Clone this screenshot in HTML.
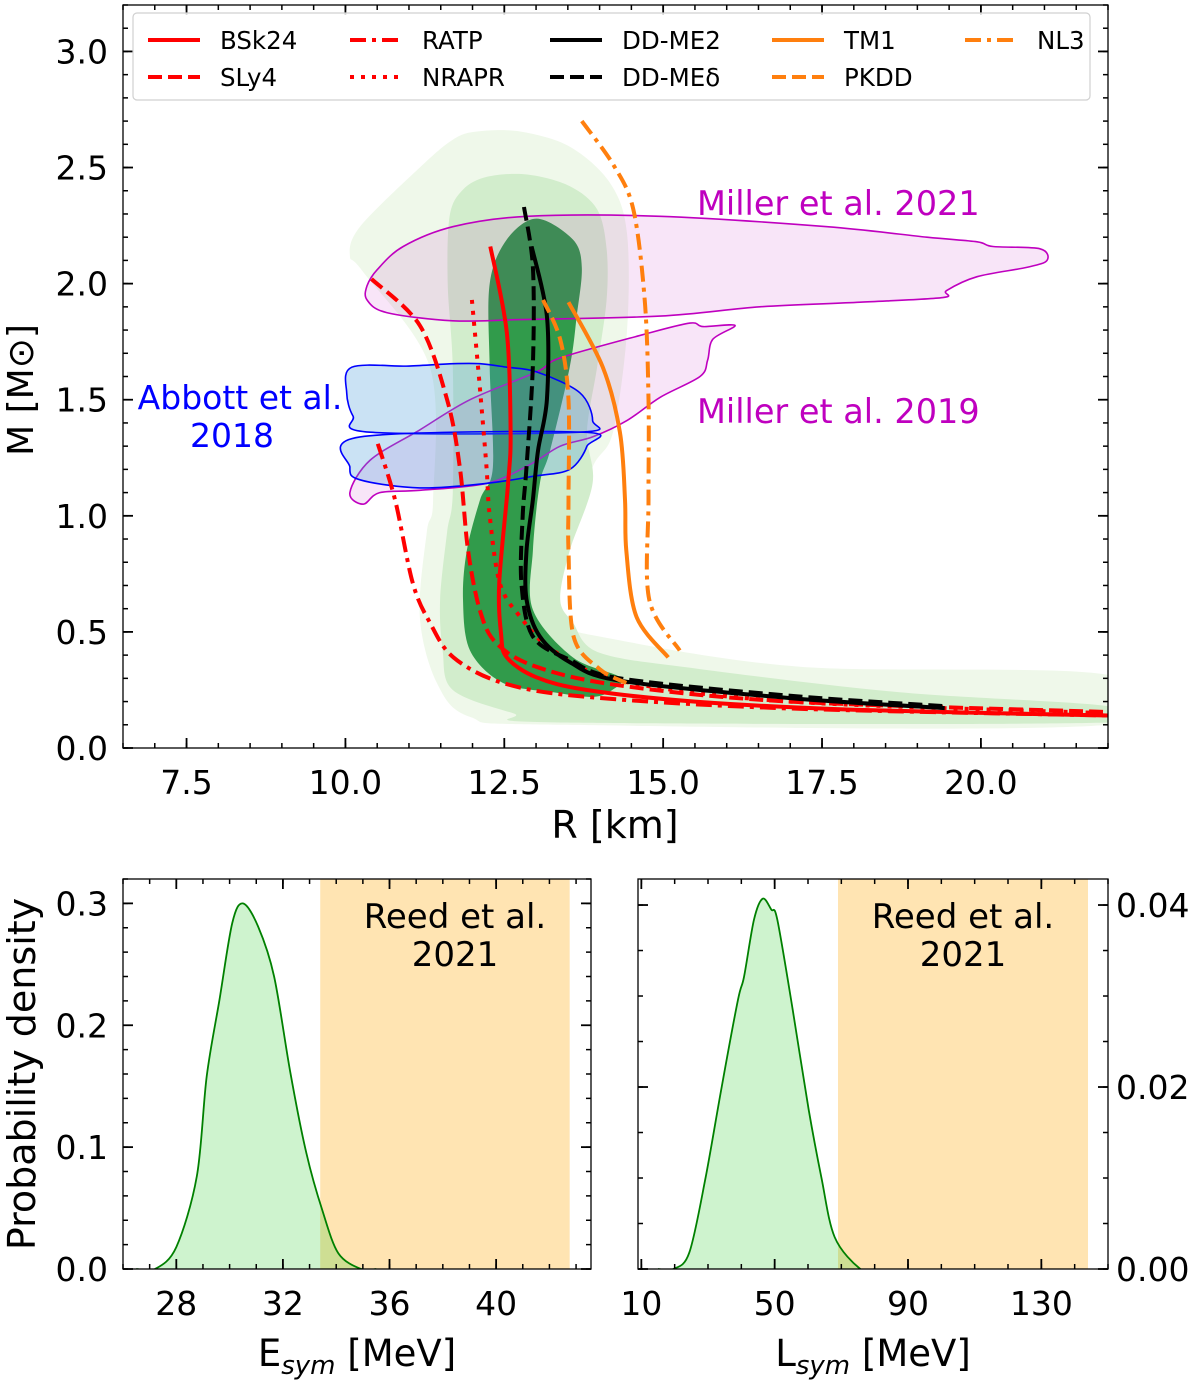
<!DOCTYPE html>
<html><head><meta charset="utf-8">
<style>
html,body{margin:0;padding:0;background:#fff;}
svg{display:block;font-family:"DejaVu Sans","Liberation Sans",sans-serif;}
</style></head>
<body>
<svg id="fig" width="1200" height="1380" viewBox="0 0 1200 1380">
<g id="topPanel"></g>
<g id="bl"></g>
<g id="br"></g>
</svg>
<script>
// ---------- data: mass-radius panel ----------
const rTicks = [7.5, 10.0, 12.5, 15.0, 17.5, 20.0];
const rTickLabels = ["7.5", "10.0", "12.5", "15.0", "17.5", "20.0"];
const mTicks = [0.0, 0.5, 1.0, 1.5, 2.0, 2.5, 3.0];
const mTickLabels = ["0.0", "0.5", "1.0", "1.5", "2.0", "2.5", "3.0"];

const contourOuter = [[12.07,2.655],[12.75,2.655],[13.53,2.59],[14.16,2.435],[14.43,2.22],[14.43,1.79],[14.21,1.36],[13.89,1.21],[13.58,0.93],[13.27,0.64],[13.38,0.54],[14.0,0.48],[17.15,0.35],[22,0.315],[22,0.10],[13.38,0.10],[11.96,0.134],[11.44,0.28],[11.17,0.565],[11.28,0.93],[11.38,1.07],[11.33,1.64],[10.28,2.05],[10.07,2.12],[10.23,2.245],[11.17,2.50],[11.69,2.62]];
const contourMid = [[11.85,2.405],[12.23,2.46],[12.86,2.47],[13.53,2.42],[13.96,2.32],[14.11,2.15],[14.11,1.93],[13.96,1.64],[13.80,1.36],[13.89,1.14],[13.53,0.85],[13.38,0.64],[13.58,0.54],[14.0,0.41],[15.58,0.34],[18.72,0.24],[22,0.18],[22,0.11],[13.38,0.11],[12.64,0.15],[11.69,0.25],[11.53,0.42],[11.49,0.64],[11.60,0.93],[11.69,1.10],[11.69,1.64],[11.61,2.0],[11.64,2.29]];
const contourInner = [[13.01,2.28],[13.58,2.19],[13.72,2.07],[13.64,1.86],[13.53,1.64],[13.22,1.28],[13.06,1.14],[12.95,0.85],[12.95,0.595],[13.58,0.39],[14.32,0.305],[14.2,0.25],[13.89,0.22],[13.27,0.24],[12.48,0.28],[11.96,0.42],[11.85,0.64],[11.91,0.85],[12.12,1.07],[12.32,1.21],[12.27,1.64],[12.27,2.0],[12.54,2.19]];

const miller2021 = [[12.86,2.29],[14.95,2.29],[17.58,2.245],[19.15,2.20],[19.94,2.18],[20.19,2.16],[20.93,2.15],[21.04,2.10],[20.72,2.07],[19.94,2.03],[19.46,1.97],[19.40,1.94],[18.10,1.92],[16.52,1.90],[14.95,1.86],[12.75,1.845],[11.69,1.84],[10.65,1.875],[10.34,1.93],[10.34,1.99],[10.50,2.06],[10.91,2.16],[11.69,2.245]];
const miller2019 = [[10.07,1.10],[10.39,1.24],[11.17,1.37],[11.96,1.50],[13.01,1.62],[13.38,1.68],[14.68,1.78],[15.42,1.83],[15.63,1.815],[16.13,1.82],[15.78,1.76],[15.70,1.67],[15.58,1.60],[14.95,1.51],[14.43,1.41],[13.89,1.34],[13.38,1.30],[12.9,1.22],[12.23,1.14],[11.17,1.11],[10.54,1.10],[10.28,1.05]];
const abbottUpper = [[10.10,1.64],[11.0,1.645],[11.69,1.655],[12.12,1.655],[12.54,1.64],[13.01,1.62],[13.69,1.53],[13.89,1.41],[13.69,1.36],[10.39,1.36],[10.12,1.43],[10.02,1.53]];
const abbottLower = [[13.74,1.36],[13.80,1.30],[13.53,1.20],[12.95,1.17],[12.23,1.14],[11.17,1.12],[10.23,1.155],[10.07,1.21],[10.23,1.34]];

const eosBSk24 = [[12.28,2.16],[12.54,1.79],[12.60,1.36],[12.56,1.14],[12.42,0.71],[12.45,0.49],[12.54,0.39],[13.0,0.305],[13.8,0.25],[15.5,0.2],[18,0.165],[22,0.14]];
const eosSLy4 = [[10.41,2.02],[11.17,1.82],[11.60,1.50],[11.80,1.21],[11.93,0.85],[12.12,0.59],[12.38,0.45],[13.0,0.35],[14.3,0.27],[17,0.2],[22,0.155]];
const eosRATP = [[10.51,1.31],[10.78,1.07],[11.06,0.71],[11.33,0.54],[11.70,0.39],[12.48,0.28],[13.8,0.22],[17,0.17],[22,0.14]];
const eosNRAPR = [[11.99,1.93],[12.11,1.57],[12.22,1.21],[12.27,1.0],[12.43,0.71],[12.75,0.565],[13.27,0.42],[14.32,0.29],[17,0.2],[22,0.15]];
const eosDDME2 = [[12.93,2.16],[13.17,1.86],[13.17,1.50],[13.03,1.28],[12.95,1.07],[12.85,0.85],[12.85,0.64],[13.06,0.48],[13.53,0.37],[14.32,0.29],[17,0.215],[19.43,0.172]];
const eosDDMEd = [[12.81,2.33],[12.95,2.07],[12.95,1.65],[12.85,1.21],[12.79,1.0],[12.77,0.71],[12.95,0.48],[13.53,0.38],[14.32,0.30],[17,0.225],[19.43,0.18]];
const eosTM1 = [[13.51,1.92],[14.05,1.64],[14.32,1.36],[14.40,1.07],[14.42,0.85],[14.58,0.565],[15.08,0.39]];
const eosPKDD = [[13.11,1.93],[13.38,1.76],[13.51,1.5],[13.51,1.07],[13.51,0.85],[13.59,0.48],[14.0,0.34],[14.42,0.28]];
const eosNL3 = [[13.72,2.70],[14.22,2.51],[14.53,2.32],[14.71,1.93],[14.77,1.5],[14.77,1.07],[14.78,0.64],[15.26,0.42]];

// ---------- data: Esym panel ----------
const eTicks = [28, 32, 36, 40];
const eTickLabels = ["28", "32", "36", "40"];
const pTicks = [0.0, 0.1, 0.2, 0.3];
const pTickLabels = ["0.0", "0.1", "0.2", "0.3"];
const esymX = [26.5, 27.2, 28.0, 28.77, 29.14, 29.62, 30.1, 30.5, 31.07, 31.67, 32.28, 32.88, 33.48, 34.08, 34.93, 35.5];
const esymP = [0, 0, 0.018, 0.076, 0.158, 0.221, 0.284, 0.300, 0.281, 0.240, 0.161, 0.095, 0.048, 0.013, 0, 0];
const esymBand = [33.4, 42.76];

// ---------- data: Lsym panel ----------
const lTicks = [10, 50, 90, 130];
const lTickLabels = ["10", "50", "90", "130"];
const qTicks = [0.00, 0.02, 0.04];
const qTickLabels = ["0.00", "0.02", "0.04"];
const lsymX = [15, 19.6, 24.4, 29.3, 34.1, 39.0, 40.8, 43.8, 46.4, 49.0, 50.8, 55.4, 60.2, 64.0, 68.0, 75.7, 80];
const lsymP = [0, 0, 0.0018, 0.0101, 0.020, 0.0296, 0.0321, 0.0384, 0.0407, 0.0395, 0.0384, 0.0285, 0.0175, 0.0101, 0.0035, 0, 0];
const lsymBand = [69, 144];

// ---------- helpers ----------
const NS = "http://www.w3.org/2000/svg";
const TICKFS = 33;
function mk(parent, tag, attrs) {
  const el = document.createElementNS(NS, tag);
  for (const k in attrs) el.setAttribute(k, attrs[k]);
  parent.appendChild(el);
  return el;
}
function smoothPath(pts, closed) {
  const n = pts.length;
  if (n < 2) return "";
  let d = "M" + pts[0][0].toFixed(1) + "," + pts[0][1].toFixed(1);
  const get = i => closed ? pts[(i + n) % n] : pts[Math.max(0, Math.min(n - 1, i))];
  const last = closed ? n : n - 1;
  for (let i = 0; i < last; i++) {
    const p0 = get(i - 1), p1 = get(i), p2 = get(i + 1), p3 = get(i + 2);
    const t = 0.16;
    const c1 = [p1[0] + (p2[0] - p0[0]) * t, p1[1] + (p2[1] - p0[1]) * t];
    const c2 = [p2[0] - (p3[0] - p1[0]) * t, p2[1] - (p3[1] - p1[1]) * t];
    d += "C" + c1[0].toFixed(1) + "," + c1[1].toFixed(1) + " " + c2[0].toFixed(1) + "," + c2[1].toFixed(1) + " " + p2[0].toFixed(1) + "," + p2[1].toFixed(1);
  }
  if (closed) d += "Z";
  return d;
}
function txt(parent, x, y, s, attrs, name) {
  const t = mk(parent, "text", Object.assign({x: x, y: y}, attrs));
  t.textContent = s;
  
  
  return t;
}
function frameTicks(g, L, R, T, B, xMaj, xMin, yMajL, yMinL, yMajR, yMinR) {
  mk(g, "rect", {x: L, y: T, width: R - L, height: B - T, fill: "none", stroke: "#000", "stroke-width": 1.3});
  xMaj.forEach(x => { mk(g, "line", {x1: x, x2: x, y1: B, y2: B - 10, stroke: "#000", "stroke-width": 1.8}); mk(g, "line", {x1: x, x2: x, y1: T, y2: T + 10, stroke: "#000", "stroke-width": 1.8}); });
  xMin.forEach(x => { mk(g, "line", {x1: x, x2: x, y1: B, y2: B - 5, stroke: "#000", "stroke-width": 1.5}); mk(g, "line", {x1: x, x2: x, y1: T, y2: T + 5, stroke: "#000", "stroke-width": 1.5}); });
  yMajL.forEach(y => mk(g, "line", {x1: L, x2: L + 10, y1: y, y2: y, stroke: "#000", "stroke-width": 1.8}));
  yMinL.forEach(y => mk(g, "line", {x1: L, x2: L + 5, y1: y, y2: y, stroke: "#000", "stroke-width": 1.5}));
  yMajR.forEach(y => mk(g, "line", {x1: R, x2: R - 10, y1: y, y2: y, stroke: "#000", "stroke-width": 1.8}));
  yMinR.forEach(y => mk(g, "line", {x1: R, x2: R - 5, y1: y, y2: y, stroke: "#000", "stroke-width": 1.5}));
}
function range(a, b, s) { const o = []; for (let v = a; v <= b + 1e-9; v += s) o.push(+v.toFixed(6)); return o; }

// ---------- top panel ----------
const topG = document.getElementById("topPanel");
const TL = 123, TR = 1108, TT = 5, TB = 748;
const rMin = 6.5, rMax = 22.0, mMin = 0, mMax = 3.2;
const xR = r => TL + (r - rMin) / (rMax - rMin) * (TR - TL);
const yM = m => TB - (m - mMin) / (mMax - mMin) * (TB - TT);
const toPx = arr => arr.map(p => [xR(p[0]), yM(p[1])]);

const clipT = mk(topG, "clipPath", {id: "clipTop"});
mk(clipT, "rect", {x: TL, y: TT, width: TR - TL, height: TB - TT});
const plotG = mk(topG, "g", {"clip-path": "url(#clipTop)"});

let el;
el = mk(plotG, "path", {d: smoothPath(toPx(contourOuter), true), fill: "#eff8ea"});


el = mk(plotG, "path", {d: smoothPath(toPx(contourMid), true), fill: "#d2edcc"});


el = mk(plotG, "path", {d: smoothPath(toPx(contourInner), true), fill: "#319b4b"});



el = mk(plotG, "path", {d: smoothPath(toPx(miller2021), true), fill: "rgba(191,0,191,0.1)", stroke: "#bf00bf", "stroke-width": 1.6});


el = mk(plotG, "path", {d: smoothPath(toPx(miller2019), true), fill: "rgba(191,0,191,0.1)", stroke: "#bf00bf", "stroke-width": 1.6});


el = mk(plotG, "path", {d: smoothPath(toPx(abbottUpper), true), fill: "rgba(80,160,220,0.3)", stroke: "#0000ff", "stroke-width": 1.6});


el = mk(plotG, "path", {d: smoothPath(toPx(abbottLower), true), fill: "rgba(80,160,220,0.3)", stroke: "#0000ff", "stroke-width": 1.6});



const RED = "#ff0000", ORG = "#ff7f0e", BLK = "#000000";
const DASH = "14,6", DASHDOT = "16,6,4,6", DOT = "4,7";
const eosList = [
  ["bsk24", eosBSk24, RED, ""], ["sly4", eosSLy4, RED, DASH], ["ratp", eosRATP, RED, DASHDOT], ["nrapr", eosNRAPR, RED, DOT],
  ["dd-me2", eosDDME2, BLK, ""], ["dd-medelta", eosDDMEd, BLK, DASH],
  ["tm1", eosTM1, ORG, ""], ["pkdd", eosPKDD, ORG, DASH], ["nl3", eosNL3, ORG, DASHDOT]
];
eosList.forEach(s => {
  const a = {d: smoothPath(toPx(s[1]), false), fill: "none", stroke: s[2], "stroke-width": 4};
  if (s[3]) a["stroke-dasharray"] = s[3];
  const p = mk(plotG, "path", a);
  
  
});

txt(topG, 697, 215, "Miller et al. 2021", {"font-size": 33.5, fill: "#bf00bf"}, "miller-2021-label");
txt(topG, 697, 423, "Miller et al. 2019", {"font-size": 33.5, fill: "#bf00bf"}, "miller-2019-label");
txt(topG, 240, 409, "Abbott et al.", {"font-size": 33, fill: "#0000ff", "text-anchor": "middle"}, "abbott-label-line1");
txt(topG, 232, 447, "2018", {"font-size": 33, fill: "#0000ff", "text-anchor": "middle"}, "abbott-label-line2");

const axT = mk(topG, "g", {});


const yMajT = mTicks.map(yM), yMinT = range(0, 3.2, 0.1).map(yM);
frameTicks(axT, TL, TR, TT, TB, rTicks.map(xR), range(6.5, 22, 0.5).map(xR), yMajT, yMinT, yMajT, yMinT);
rTicks.forEach((r, i) => txt(topG, xR(r), 794, rTickLabels[i], {"font-size": TICKFS, "text-anchor": "middle"}, "x-tick-label"));
mTicks.forEach((m, i) => txt(topG, 108, yM(m) + 12, mTickLabels[i], {"font-size": TICKFS, "text-anchor": "end"}, "y-tick-label"));
txt(topG, 615, 838, "R [km]", {"font-size": 38, "text-anchor": "middle"}, "x-axis-title");
txt(topG, 0, 0, "M [M\u2299]", {"font-size": 36, "text-anchor": "middle", transform: "translate(33,390) rotate(-90)"}, "y-axis-title");

// legend
const lg = mk(topG, "g", {});


mk(lg, "rect", {x: 133, y: 13, width: 957, height: 87, rx: 4, fill: "#fff", "fill-opacity": 0.85, stroke: "#d0d0d0", "stroke-width": 1.2});
const legNames = ["BSk24", "RATP", "DD-ME2", "TM1", "NL3", "SLy4", "NRAPR", "DD-ME\u03b4", "PKDD"];
const legIdx = [0, 2, 4, 6, 8, 1, 3, 5, 7];
const colX = [148, 350, 550, 772, 965];
legNames.forEach((nm, k) => {
  const col = k < 5 ? k : k - 5, row = k < 5 ? 0 : 1;
  const s = eosList[legIdx[k]];
  const y = row === 0 ? 40 : 77;
  const g = mk(lg, "g", {});
  
  
  const a = {x1: colX[col], x2: colX[col] + 52, y1: y, y2: y, stroke: s[2], "stroke-width": 4};
  if (s[3]) a["stroke-dasharray"] = s[3];
  mk(g, "line", a);
  txt(g, colX[col] + 72, y + 9, nm, {"font-size": 24.5}, "legend-label");
});

// ---------- bottom panels ----------
function densityPanel(g, L, R, T, B, xMin, xMax, yMax, xs, ys, band, xT, xTL, xMinStep, yT, yTL, yMinStep, labelSide, title, reedX, nameP) {
  const X = v => L + (v - xMin) / (xMax - xMin) * (R - L);
  const Y = v => B - v / yMax * (B - T);
  const cid = "clip" + nameP;
  const c = mk(g, "clipPath", {id: cid});
  mk(c, "rect", {x: L, y: T, width: R - L, height: B - T});
  const pg = mk(g, "g", {"clip-path": "url(#" + cid + ")"});
  const b = mk(pg, "rect", {x: X(band[0]), y: T, width: X(band[1]) - X(band[0]), height: B - T, fill: "rgba(255,165,0,0.3)"});
  
  
  const pts = xs.map((x, i) => [X(x), Y(ys[i])]);
  const line = smoothPath(pts, false);
  const f = mk(pg, "path", {d: line + "L" + X(xs[xs.length - 1]) + "," + B + "L" + X(xs[0]) + "," + B + "Z", fill: "rgba(50,205,50,0.24)"});
  
  
  const l = mk(pg, "path", {d: line, fill: "none", stroke: "#008000", "stroke-width": 1.8});
  
  
  txt(g, reedX, 928, "Reed et al.", {"font-size": 34, "text-anchor": "middle"}, "reed-label-line1");
  txt(g, reedX, 966, "2021", {"font-size": 34, "text-anchor": "middle"}, "reed-label-line2");
  const ax = mk(g, "g", {});
  
  
  const yMaj = yT.map(Y), yMn = range(0, yMax, yMinStep).map(Y);
  frameTicks(ax, L, R, T, B, xT.map(X), range(Math.ceil(xMin / xMinStep) * xMinStep, xMax, xMinStep).map(X), yMaj, yMn, yMaj, yMn);
  xT.forEach((v, i) => txt(g, X(v), 1315, xTL[i], {"font-size": TICKFS, "text-anchor": "middle"}, "x-tick-label"));
  yT.forEach((v, i) => {
    if (labelSide === "left") txt(g, 108, Y(v) + 12, yTL[i], {"font-size": TICKFS, "text-anchor": "end"}, "y-tick-label");
    else txt(g, R + 8, Y(v) + 12, yTL[i], {"font-size": TICKFS, "text-anchor": "start"}, "y-tick-label");
  });
  const tt = mk(g, "text", {x: (L + R) / 2, y: 1366, "font-size": 37, "text-anchor": "middle"});
  
  
  tt.appendChild(document.createTextNode(title));
  const ts = mk(tt, "tspan", {"font-size": 26, "font-style": "italic", dy: 8});
  ts.textContent = "sym";
  const tr = mk(tt, "tspan", {dy: -8});
  tr.textContent = " [MeV]";
}
const blG = document.getElementById("bl");
const brG = document.getElementById("br");
densityPanel(blG, 123, 591, 879, 1269, 26.0, 43.56, 0.32, esymX, esymP, esymBand,
  eTicks, eTickLabels, 1, pTicks, pTickLabels, 0.02, "left", "E", 455, "esym");
densityPanel(brG, 638, 1108, 879, 1269, 9.0, 150, 0.04286, lsymX, lsymP, lsymBand,
  lTicks, lTickLabels, 10, qTicks, qTickLabels, 0.005, "right", "L", 963, "lsym");
txt(blG, 0, 0, "Probability density", {"font-size": 38, "text-anchor": "middle", transform: "translate(35,1074) rotate(-90)"}, "y-axis-title");
</script>
</body></html>
